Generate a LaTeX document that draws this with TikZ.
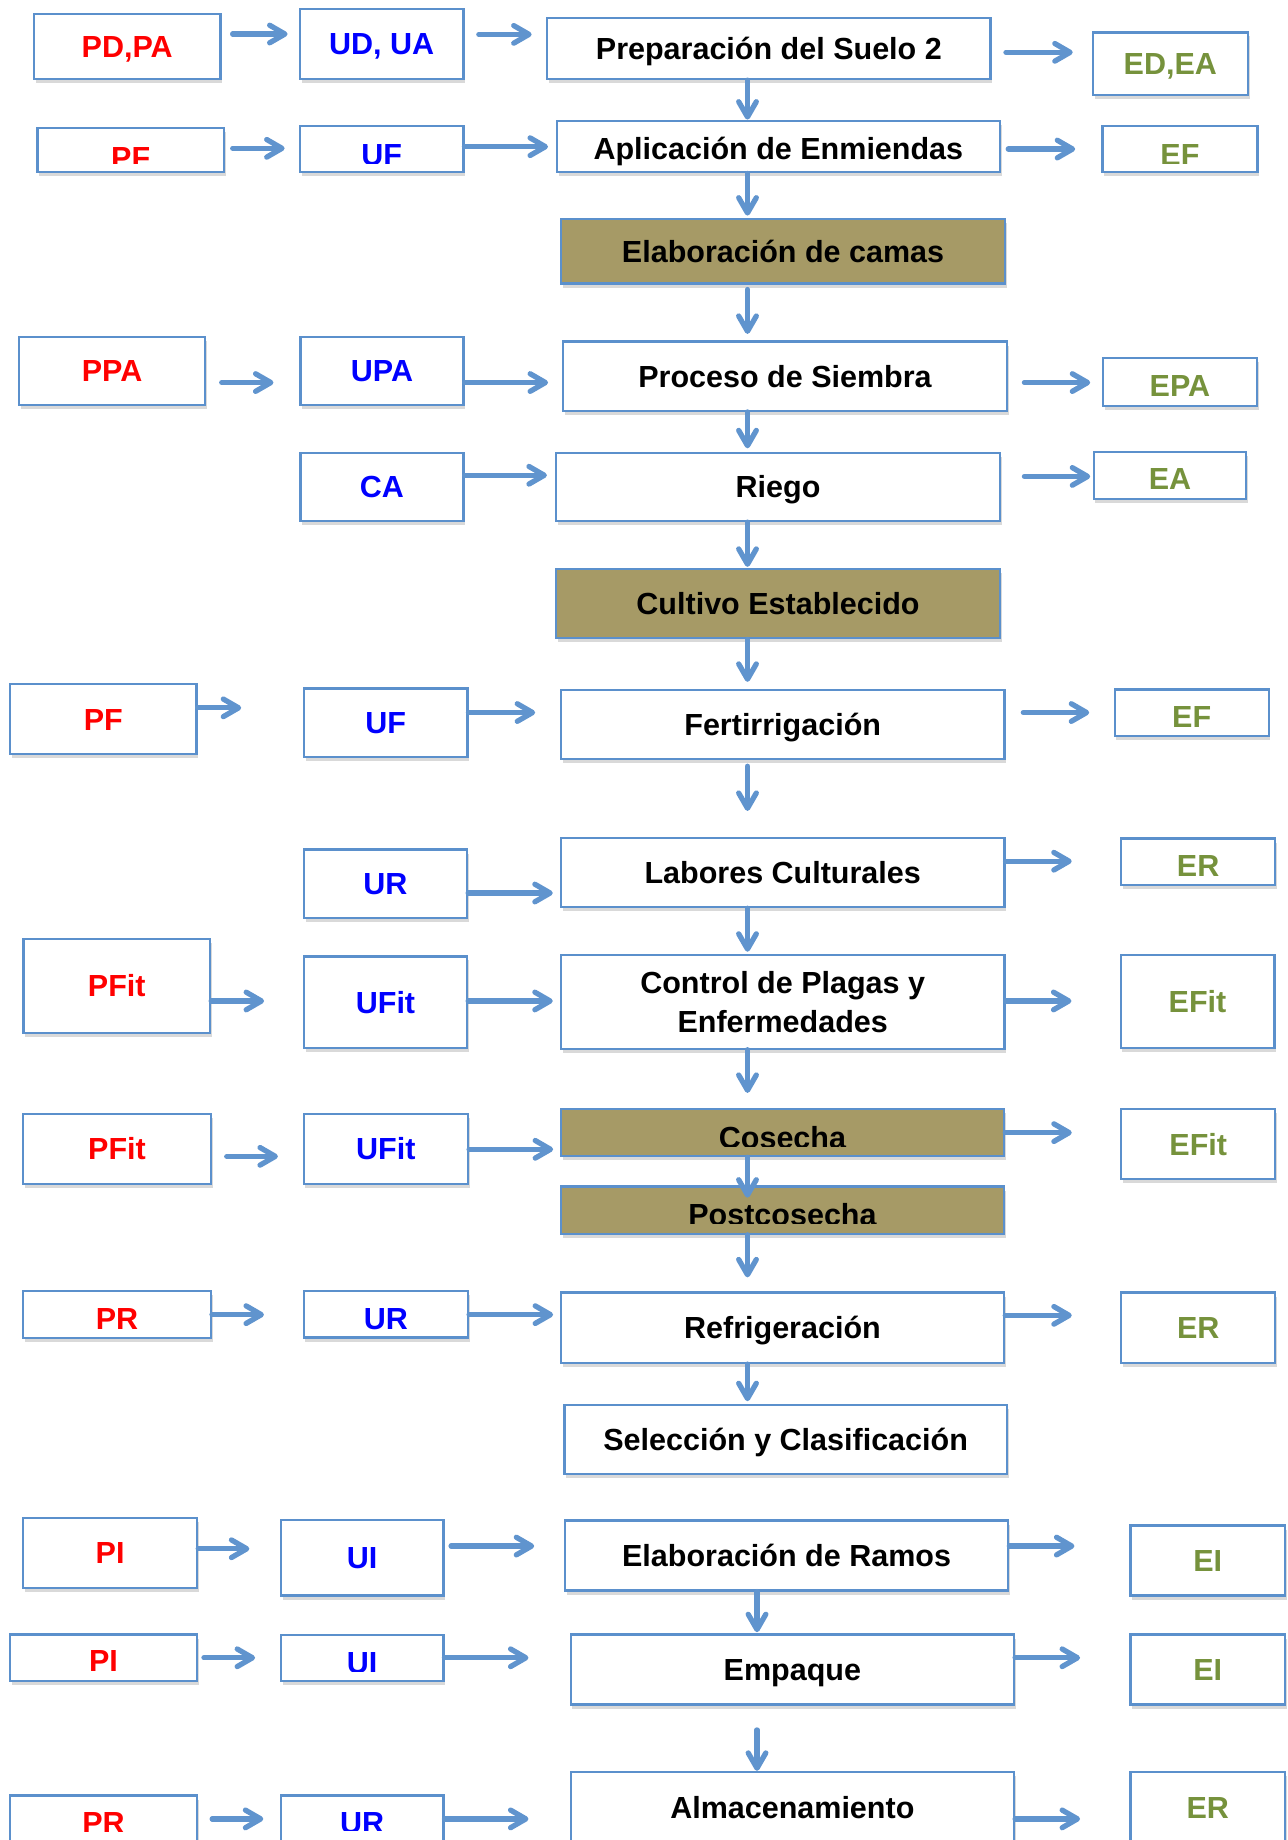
\documentclass[tikz,border=0pt]{standalone}
\usepackage{fontspec}
\setmainfont{Liberation Sans}
\usepackage{tikz}
\usetikzlibrary{arrows.meta,shadows}

\definecolor{boxblue}{RGB}{91,144,204}
\definecolor{arrblue}{RGB}{96,148,206}
\definecolor{olivebox}{RGB}{166,154,102}
\definecolor{pred}{RGB}{255,0,0}
\definecolor{ublue}{RGB}{0,0,255}
\definecolor{egreen}{RGB}{118,146,60}

\newcommand{\lab}{\fontsize{26}{32.7}\selectfont\bfseries}
% text cut at a line, as in the source slide
\newcommand{\cliplabel}[5]{%
  \begin{scope}
    \clip (0,0) rectangle (1097,#3);
    \node[txt, text=#4] (#1) at (#2) {#5};
  \end{scope}}

\tikzset{
  frame/.style={draw=boxblue, line width=1.9pt, fill=white, inner sep=0pt, font=\lab,
    drop shadow={shadow xshift=1.5pt, shadow yshift=-3.5pt, opacity=.3}},
  box/.style 2 args={frame, minimum width=#1pt, minimum height=#2pt, text height=18.5pt, text depth=0pt},
  pbox/.style 2 args={box={#1}{#2}, text=pred},
  ubox/.style 2 args={box={#1}{#2}, text=ublue},
  ebox/.style 2 args={box={#1}{#2}, text=egreen},
  hbox/.style 2 args={box={#1}{#2}, fill=olivebox},
  low/.style={text height=#1pt},
  txt/.style={font=\lab, inner sep=0pt, text height=18.5pt, text depth=0pt},
  arr/.style={draw=arrblue, line width=4.5pt, line cap=round,
    -{Straight Barb[length=13pt, width=15pt, line cap=round, line join=round]}},
  gap/.style 2 args={shorten <=#1pt, shorten >=#2pt}
}

\begin{document}
\begin{tikzpicture}[x=1pt,y=-1pt]
\useasboundingbox (0,0) rectangle (1097,1568);
\clip (0,0) rectangle (1097,1568);
\coordinate (vx) at (637,0);
\coordinate (vx2) at (645.1,0);

% P column
\node[pbox={159}{55.4}] (pdpa) at (108.4,39.6) {PD,PA};
\node[pbox={158.7}{37.5}] (pf1) at (111.4,128.1) {};
\node[pbox={159}{58}] (ppa) at (95.5,316) {PPA};
\node[pbox={159}{59.7}] (pf2) at (88,612.9) {PF};
\node[pbox={159}{80}] (pfit1) at (99.5,840) {PFit};
\node[pbox={160}{60}] (pfit2) at (99.7,979.1) {PFit};
\node[pbox={160}{40}, low=25.5] (pr1) at (99.7,1120.2) {PR};
\node[pbox={148.3}{59.7}] (pi1) at (93.8,1323.2) {PI};
\node[pbox={159.5}{39.8}, low=24.1] (pi2) at (88.2,1412.7) {PI};
\node[pbox={159.5}{60}] (pr2) at (88.2,1560) {};

% U column
\node[ubox={139.2}{59.6}] (udua) at (325.3,37.5) {UD, UA};
\node[ubox={139.2}{39.5}] (uf1) at (325.3,127.1) {};
\node[ubox={139}{58}] (upa) at (325.5,316) {UPA};
\node[ubox={139}{58}] (ca) at (325.5,415) {CA};
\node[ubox={139.2}{58.3}] (uf2) at (328.7,615.8) {UF};
\node[ubox={139}{58}] (ur1) at (328.5,753) {UR};
\node[ubox={139}{78}] (ufit1) at (328.5,854) {UFit};
\node[ubox={140}{59.7}] (ufit2) at (328.8,978.9) {UFit};
\node[ubox={140}{39.7}, low=25.5] (ur2) at (328.8,1120) {UR};
\node[ubox={138.5}{64}] (ui1) at (308.6,1327.6) {UI};
\node[ubox={138.5}{39}] (ui2) at (308.6,1413.1) {};
\node[ubox={138.5}{60}] (ur3) at (308.6,1560) {};

% process column
\node[box={377.6}{51.7}] (prep) at (655.2,41.5) {Preparación del Suelo 2};
\node[box={377.7}{44}, low=22.5] (aplic) at (663.3,124.9) {Aplicación de Enmiendas};
\node[hbox={378.8}{54.8}] (elab) at (667.3,214.1) {Elaboración de camas};
\node[box={378}{59}] (proc) at (669,320.6) {Proceso de Siembra};
\node[box={378}{58}] (riego) at (663,415) {Riego};
\node[hbox={378}{59}] (cultivo) at (663,514.5) {Cultivo Establecido};
\node[box={378}{59}] (fert) at (667,617.5) {Fertirrigación};
\node[box={378}{59}] (labores) at (667,743.5) {Labores Culturales};
\node[frame, minimum width=378pt, minimum height=79.6pt, align=center] (control) at (667,853.8)
  {Control de Plagas y\\Enfermedades};
\node[hbox={377.8}{40}] (cosecha) at (666.8,965.3) {};
\node[hbox={377.8}{40.3}] (post) at (666.8,1031.2) {};
\node[box={377.8}{60}] (refrig) at (666.8,1131.5) {Refrigeración};
\node[box={377}{59}] (sel) at (669.5,1226.5) {Selección y Clasificación};
\node[box={377.8}{59.7}] (eramos) at (670.3,1325.5) {Elaboración de Ramos};
\node[box={377.8}{59.7}] (empaque) at (675.2,1422.7) {Empaque};
\node[box={377.8}{60}] (alm) at (675.2,1540) {Almacenamiento};

% E column
\node[ebox={132}{53.4}] (edea) at (997.3,54.3) {ED,EA};
\node[ebox={132}{39.8}] (ef1) at (1005.5,127) {};
\node[ebox={131}{41}, low=25.5] (epa) at (1005.5,325.5) {EPA};
\node[ebox={130}{40}, low=24.5] (ea) at (997,405) {EA};
\node[ebox={131.3}{39.8}, low=24.5] (ef2) at (1015.5,607.5) {EF};
\node[ebox={131.5}{39.8}, low=24.1] (er1) at (1021,734.5) {ER};
\node[ebox={131}{79}] (efit1) at (1020.5,853.5) {EFit};
\node[ebox={131}{59.7}] (efit2) at (1021.1,975.1) {EFit};
\node[ebox={131}{60}] (er2) at (1021.1,1131.5) {ER};
\node[ebox={131.5}{59.5}] (ei1) at (1029.2,1329.8) {EI};
\node[ebox={131.5}{59.7}] (ei2) at (1029.2,1422.7) {EI};
\node[ebox={131.5}{60}] (er3) at (1029.2,1540) {ER};

% cut labels
\cliplabel{pf1t}{111.4,134.2}{139.2}{pred}{PF}
\cliplabel{uf1t}{325.3,131.4}{139.2}{ublue}{UF}
\cliplabel{ef1t}{1005.5,131.4}{139.2}{egreen}{EF}
\cliplabel{cosechat}{666.8,969.6}{976.6}{black}{Cosecha}
\cliplabel{postt}{666.8,1035}{1042.7}{black}{Postcosecha}
\cliplabel{ui2t}{308.6,1417}{1424.1}{ublue}{UI}
\cliplabel{pr2t}{88.2,1553}{1561}{pred}{PR}
\cliplabel{ur3t}{308.6,1553}{1560}{ublue}{UR}

% main flow
\draw[arr] (prep.south -| vx) -- (aplic.north -| vx);
\draw[arr, gap={0}{2}] (aplic.south -| vx) -- (elab.north -| vx);
\draw[arr, gap={4.3}{5.6}] (elab.south -| vx) -- (proc.north -| vx);
\draw[arr, gap={0}{3}] (proc.south -| vx) -- (riego.north -| vx);
\draw[arr, gap={0}{1}] (riego.south -| vx) -- (cultivo.north -| vx);
\draw[arr, gap={0}{6}] (cultivo.south -| vx) -- (fert.north -| vx);
\draw[arr, gap={5}{22}] (fert.south -| vx) -- (labores.north -| vx);
\draw[arr, gap={0}{2}] (labores.south -| vx) -- (control.north -| vx);
\draw[arr, gap={0}{13}] (control.south -| vx) -- (cosecha.north -| vx);
\draw[arr, gap={0}{-10.5}] (cosecha.south -| vx) -- (post.north -| vx);
\draw[arr, gap={0}{12}] (post.south -| vx) -- (refrig.north -| vx);
\draw[arr, gap={0}{2}] (refrig.south -| vx) -- (sel.north -| vx);
\draw[arr, gap={0}{1}] (eramos.south -| vx2) -- (empaque.north -| vx2);
\draw[arr, gap={20.7}{0}] (empaque.south -| vx2) -- (alm.north -| vx2);

% side arrows
\draw[arr, gap={9.4}{9.7}] (pdpa.east |- 0,29) -- (udua.west |- 0,29);
\draw[arr, gap={12.2}{12.4}] (udua.east |- 0,29.3) -- (prep.west |- 0,29.3);
\draw[arr, gap={12.3}{16.2}] (prep.east |- 0,44.6) -- (edea.west |- 0,44.6);
\draw[arr, gap={6.6}{12.2}] (pf1.east |- 0,126.4) -- (uf1.west |- 0,126.4);
\draw[arr, gap={0}{6.5}] (uf1.east |- 0,125) -- (aplic.west |- 0,125);
\draw[arr, gap={6.1}{22.3}] (aplic.east |- 0,127) -- (ef1.west |- 0,127);
\draw[arr, gap={13}{22}] (ppa.east |- 0,326) -- (upa.west |- 0,326);
\draw[arr, gap={0}{12}] (upa.east |- 0,326) -- (proc.west |- 0,326);
\draw[arr, gap={14}{10}] (proc.east |- 0,326) -- (epa.west |- 0,326);
\draw[arr, gap={0}{7}] (ca.east |- 0,405) -- (riego.west |- 0,405);
\draw[arr, gap={20}{2}] (riego.east |- 0,406) -- (ea.west |- 0,406);
\draw[arr, gap={0}{52.6}] (pf2.east |- 0,603.2) -- (uf2.west |- 0,603.2);
\draw[arr, gap={0}{21}] (uf2.east |- 0,607.2) -- (fert.west |- 0,607.2);
\draw[arr, gap={15.1}{20.7}] (fert.east |- 0,607.2) -- (ef2.west |- 0,607.2);
\draw[arr, gap={0}{6}] (ur1.east |- 0,761) -- (labores.west |- 0,761);
\draw[arr, gap={0}{41}] (labores.east |- 0,733.9) -- (er1.west |- 0,733.9);
\draw[arr, gap={0}{33}] (pfit1.east |- 0,853) -- (ufit1.west |- 0,853);
\draw[arr, gap={0}{6}] (ufit1.east |- 0,853) -- (control.west |- 0,853);
\draw[arr, gap={0}{41}] (control.east |- 0,853) -- (efit1.west |- 0,853);
\draw[arr, gap={12.6}{21}] (pfit2.east |- 0,985.4) -- (ufit2.west |- 0,985.4);
\draw[arr, gap={0}{5.6}] (ufit2.east |- 0,979.4) -- (cosecha.west |- 0,979.4);
\draw[arr, gap={0}{41.3}] (cosecha.east |- 0,965.2) -- (efit2.west |- 0,965.2);
\draw[arr, gap={0}{32.9}] (pr1.east |- 0,1120.3) -- (ur2.west |- 0,1120.3);
\draw[arr, gap={0}{5.6}] (ur2.east |- 0,1120.3) -- (refrig.west |- 0,1120.3);
\draw[arr, gap={0}{41.3}] (refrig.east |- 0,1120.9) -- (er2.west |- 0,1120.9);
\draw[arr, gap={0}{25.9}] (pi1.east |- 0,1319.8) -- (ui1.west |- 0,1319.8);
\draw[arr, gap={5.6}{25.2}] (ui1.east |- 0,1317.5) -- (eramos.west |- 0,1317.5);
\draw[arr, gap={0}{46.9}] (eramos.east |- 0,1317.5) -- (ei1.west |- 0,1317.5);
\draw[arr, gap={4.9}{21}] (pi2.east |- 0,1412.7) -- (ui2.west |- 0,1412.7);
\draw[arr, gap={0}{35}] (ui2.east |- 0,1412.7) -- (empaque.west |- 0,1412.7);
\draw[arr, gap={0}{42.1}] (empaque.east |- 0,1412.7) -- (ei2.west |- 0,1412.7);
\draw[arr, gap={11.9}{14}] (pr2.east |- 0,1550) -- (ur3.west |- 0,1550);
\draw[arr, gap={0}{35}] (ur3.east |- 0,1550) -- (alm.west |- 0,1550);
\draw[arr, gap={0}{42.1}] (alm.east |- 0,1550) -- (er3.west |- 0,1550);

\end{tikzpicture}
\end{document}
